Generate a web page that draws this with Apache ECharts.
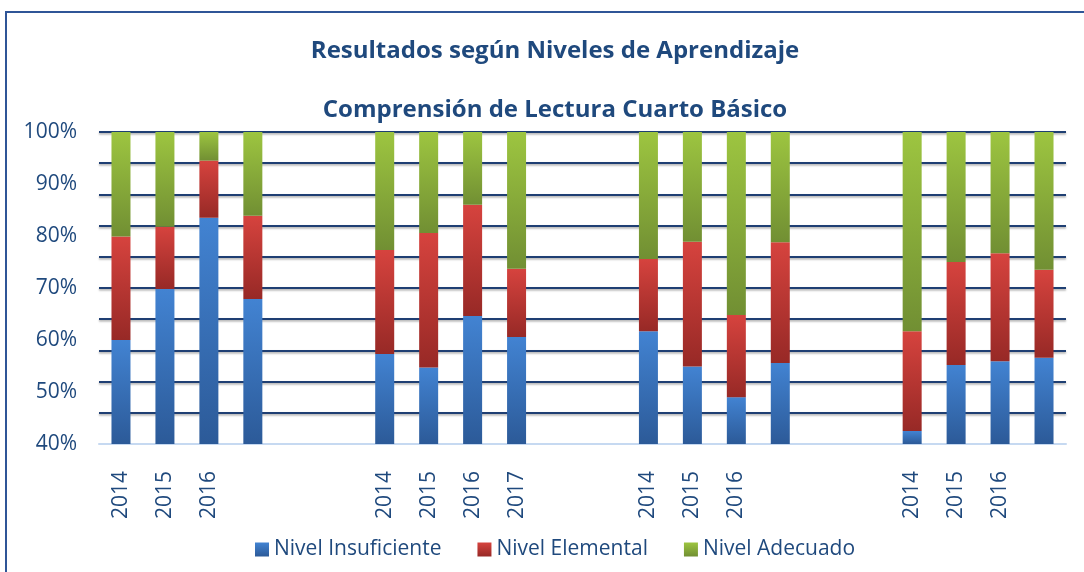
<!DOCTYPE html>
<html>
<head>
<meta charset="utf-8">
<script src="https://cdn.jsdelivr.net/npm/echarts@6/dist/echarts.min.js"></script>
<style>
html,body{margin:0;padding:0;background:#fff;}
#chart{width:1084px;height:572px;}
</style>
</head>
<body>
<div id="chart"></div>
<script>
// Categories (22 slots: 4 groups of 4 bars separated by 2 empty slots)
var categories = ['2014','2015','2016','', ' ', '  ',
                  '2014','2015','2016','2017', '   ', '    ',
                  '2014','2015','2016','', ' ', '  ',
                  '2014','2015','2016',''];
var yTickLabels = ['40%','50%','60%','70%','80%','90%','100%'];
var seriesNames = ['Nivel Insuficiente','Nivel Elemental','Nivel Adecuado'];

var insuficiente = [60.0, 69.8, 83.5, 67.9, null, null,
                    57.3, 54.7, 64.6, 60.6, null, null,
                    61.7, 54.9, 49.0, 55.6, null, null,
                    42.5, 55.2, 55.9, 56.6];
var elemental    = [19.9, 12.0, 11.0, 16.0, null, null,
                    20.0, 25.9, 21.4, 13.1, null, null,
                    13.9, 24.0, 15.8, 23.2, null, null,
                    19.2, 19.8, 20.8, 16.9];
var adecuado     = [20.1, 18.2, 5.5, 16.1, null, null,
                    22.7, 19.4, 14.0, 26.3, null, null,
                    24.4, 21.1, 35.2, 21.2, null, null,
                    38.3, 25.0, 23.3, 26.5];

var FONT = "'Open Sans', 'Noto Sans', sans-serif";
var TXT = '#1F497D';

function grad(top, bottom) {
  return new echarts.graphic.LinearGradient(0, 0, 0, 1, [
    {offset: 0, color: top}, {offset: 1, color: bottom}
  ]);
}

var chart = echarts.init(document.getElementById('chart'), null, {renderer: 'canvas'});
var option = {
  animation: false,
  backgroundColor: '#ffffff',
  title: [
    {text: 'Resultados según Niveles de Aprendizaje', left: 550, textAlign: 'center', top: 34,
     textStyle: {fontFamily: FONT, fontSize: 24, fontWeight: 'bold', color: TXT}},
    {text: 'Comprensión de Lectura Cuarto Básico', left: 550, textAlign: 'center', top: 93,
     textStyle: {fontFamily: FONT, fontSize: 24, fontWeight: 'bold', color: TXT}}
  ],
  graphic: [{
    type: 'rect', shape: {x: 6, y: 12, width: 1100, height: 620},
    style: {fill: 'none', stroke: '#2F5597', lineWidth: 2}, silent: true, z: 100
  }],
  legend: {
    left: 250, top: 534,
    itemWidth: 14, itemHeight: 14, itemGap: 36,
    icon: 'rect',
    textStyle: {fontFamily: FONT, fontSize: 21, color: TXT, padding: [0,0,0,0]},
    data: seriesNames
  },
  grid: {left: 99, right: 18, top: 132, bottom: 128, containLabel: false},
  xAxis: {
    type: 'category', data: categories, boundaryGap: true,
    axisLine: {show: true, lineStyle: {color: '#C6D9F1', width: 2}},
    axisTick: {show: false},
    axisLabel: {interval: 0, rotate: 90, margin: 27, fontFamily: FONT, fontSize: 21, color: TXT}
  },
  yAxis: [{
    type: 'value', min: 40, max: 100, interval: 10,
    axisLine: {show: false}, axisTick: {show: false},
    splitLine: {show: false},
    axisLabel: {margin: 22, fontFamily: FONT, fontSize: 21, color: TXT,
      formatter: function (v) { return yTickLabels[Math.round((v - 40) / 10)]; }}
  }, {
    type: 'value', min: 0, max: 10, interval: 1, position: 'right',
    axisLine: {show: false}, axisTick: {show: false}, axisLabel: {show: false},
    splitLine: {show: true, showMinLine: false,
      lineStyle: {color: '#1F3F73', width: 2, shadowColor: 'rgba(0,0,0,0.35)', shadowBlur: 2, shadowOffsetY: 1.5}}
  }],
  series: [
    {name: seriesNames[0], type: 'bar', stack: 'total', barWidth: 19, data: insuficiente,
     itemStyle: {color: grad('#4283D2', '#2C5A98')}},
    {name: seriesNames[1], type: 'bar', stack: 'total', barWidth: 19, data: elemental,
     itemStyle: {color: grad('#D6433E', '#972926')}},
    {name: seriesNames[2], type: 'bar', stack: 'total', barWidth: 19, data: adecuado,
     itemStyle: {color: grad('#9DC540', '#718F33')}}
  ]
};
chart.setOption(option);
</script>
</body>
</html>
